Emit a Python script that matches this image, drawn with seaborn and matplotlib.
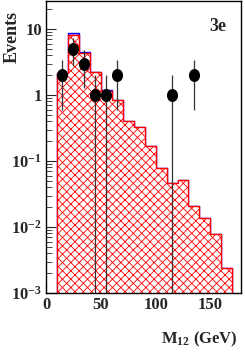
import matplotlib
matplotlib.use('Agg')
import matplotlib.pyplot as plt
import pandas as pd
import seaborn as sns
from matplotlib.path import Path
from matplotlib.transforms import Affine2D
from matplotlib.ticker import FixedLocator, MultipleLocator

# MC histogram, 10 GeV bins from 10 to 170 GeV
bin_edges = [10, 20, 30, 40, 50, 60, 70, 80, 90, 100, 110, 120, 130, 140, 150, 160, 170]
bin_centers = [15, 25, 35, 45, 55, 65, 75, 85, 95, 105, 115, 125, 135, 145, 155, 165]
mc_main = [2.15, 8.0, 4.33, 2.25, 1.15, 0.83, 0.40, 0.33, 0.17, 0.078,
           0.047, 0.052, 0.021, 0.0137, 0.0078, 0.0024]
mc_other = [0.0, 0.6, 0.2, 0.0, 0.05, 0.0, 0.0, 0.0, 0.0, 0.0,
            0.0, 0.0, 0.0, 0.0, 0.0, 0.0]

# data points
data_mass = [15, 25, 35, 45, 55, 65, 115, 135]
data_events = [2, 5, 3, 1, 1, 2, 1, 2]
data_err = [1.41, 2.24, 1.73, 1.0, 1.0, 1.41, 1.0, 1.41]

sns.set_style('ticks')
plt.rcParams['font.family'] = ['Liberation Serif', 'DejaVu Serif']
plt.rcParams['font.weight'] = 'bold'
plt.rcParams['mathtext.fontset'] = 'custom'
plt.rcParams['mathtext.rm'] = 'Liberation Serif:bold'
plt.rcParams['mathtext.it'] = 'Liberation Serif:bold'
plt.rcParams['mathtext.bf'] = 'Liberation Serif:bold'
plt.rcParams['hatch.linewidth'] = 0.6
plt.rcParams['hatch.color'] = 'red'

fig = plt.figure(figsize=(2.45, 3.54), dpi=100)
ax = fig.add_axes([0.188, 0.172, 0.796, 0.825])
ax.set_yscale('log')

mc_total = [a + b for a, b in zip(mc_main, mc_other)]
hist_df = pd.DataFrame({'m': bin_centers, 'main': mc_main, 'total': mc_total})

# stacked: other component on top, main (hatched) below
sns.histplot(data=hist_df, x='m', weights='total', bins=bin_edges, element='step',
             fill=True, facecolor='#a99cf0', edgecolor='blue', linewidth=1, alpha=1, ax=ax)
sns.histplot(data=hist_df, x='m', weights='main', bins=bin_edges, element='step',
             fill=True, facecolor='white', edgecolor='red', hatch='xxxx', linewidth=1,
             alpha=1, ax=ax)

ax.errorbar(data_mass, data_events, yerr=data_err, fmt='none', ecolor='#333333',
            elinewidth=0.9, zorder=4)
ellipse = Path.unit_circle().transformed(Affine2D().scale(0.85, 1.0))
sns.scatterplot(x=data_mass, y=data_events, marker=ellipse, s=88, color='black',
                edgecolor='black', linewidth=0, zorder=5, ax=ax)

ax.set_xlim(0, 178)
ax.set_ylim(1e-3, 26.5)
ax.xaxis.set_major_locator(MultipleLocator(50))
ax.xaxis.set_minor_locator(MultipleLocator(10))
ax.yaxis.set_major_locator(FixedLocator([1e-3, 1e-2, 1e-1, 1, 10]))
ax.set_yticklabels(['$10^{-3}$', '$10^{-2}$', '$10^{-1}$', '1', '10'])
ax.tick_params(which='both', direction='in', top=False, right=False, labelsize=12, pad=3)
ax.tick_params(which='major', length=7, width=0.8)
ax.tick_params(which='minor', length=4, width=0.6)
for sp in ax.spines.values():
    sp.set_visible(True)
    sp.set_color('black')
    sp.set_linewidth(1)

ax.set_ylabel('Events', loc='top', fontsize=13, fontweight='bold')
ax.yaxis.set_label_coords(-0.13, 0.965)
ax.set_xlabel('M$_{12}$ (GeV)', loc='right', fontsize=12, fontweight='bold')
ax.xaxis.set_label_coords(0.985, -0.125)
ax.text(0.923, 0.914, '3e', transform=ax.transAxes, ha='right', va='center',
        fontsize=13, fontweight='bold')

fig.savefig('out.png', dpi=100)
